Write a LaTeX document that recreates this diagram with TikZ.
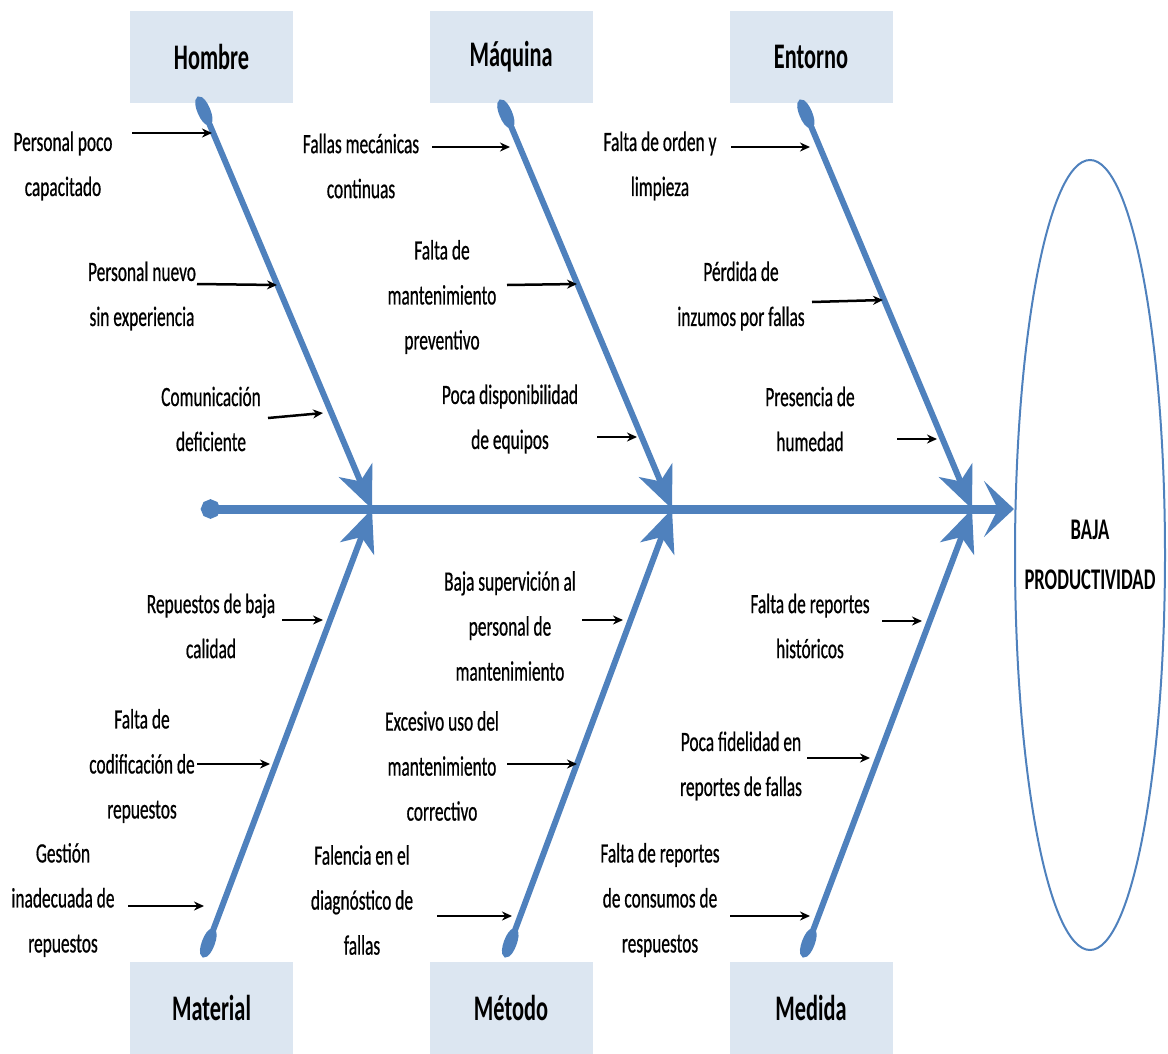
\documentclass[tikz,border=0pt]{standalone}
\usepackage{fontspec}
\setmainfont[FakeStretch=0.62]{Carlito}
\newfontfamily\causefont[FakeStretch=0.62,FakeBold=0.6]{Carlito}
\usetikzlibrary{arrows.meta,shapes.geometric}
\definecolor{bonecol}{HTML}{4F81BD}
\definecolor{boxcol}{HTML}{DCE6F1}
\tikzset{
  header/.style={fill=boxcol, minimum width=163pt, minimum height=92pt,
    font=\fontsize{36}{40}\selectfont\bfseries},
  cause/.style={align=center, inner sep=0pt,
    font=\causefont\fontsize{28}{45}\selectfont},
  causearrow/.style={line width=2.5pt, -{Stealth[length=10pt,width=9pt]}},
  bone/.style={draw=bonecol, line width=6pt,
    {Ellipse[length=30pt,width=13pt]}-{Stealth[length=42pt,width=36pt,inset=12pt]}},
  spine/.style={draw=bonecol, line width=9pt,
    {Circle[length=19pt]}-{Stealth[length=30pt,width=56pt,inset=14pt]}},
  effect/.style={ellipse, draw=bonecol, line width=2pt, minimum width=150pt,
    minimum height=790pt, inner sep=0pt},
  effecttext/.style={align=center, inner sep=0pt,
    font=\fontsize{30}{50}\selectfont\bfseries}
}

\begin{document}
\begin{tikzpicture}[x=1pt, y=-1pt]
    \useasboundingbox (0,0) rectangle (1168,1053);
    % categories
    \node[header] (hombre)   at (211.5,56.5) {Hombre};
    \node[header] (maquina)  at (511,56.5)   {Máquina};
    \node[header] (entorno)  at (811,56.5)   {Entorno};
    \node[header] (material) at (211.5,1008) {Material};
    \node[header] (metodo)   at (511,1008)   {Método};
    \node[header] (medida)   at (811,1008)   {Medida};
    % effect
    \node[effect] (efecto) at (1090,555) {};
    \node[effecttext] (efectotxt) at (efecto.center) {BAJA\\PRODUCTIVIDAD};
    % spine and bones
    \coordinate (tail) at (201,509);
    \coordinate (j1) at (372,509);
    \coordinate (j2) at (672,509);
    \coordinate (j3) at (972,509);
    \draw[spine] (tail) -- (tail -| efecto.west);
    \foreach \s/\x/\y/\j in {h/198/97/j1, q/500/100/j2, e/800/100/j3,
                             m/203/957/j1, t/505/957/j2, d/803/957/j3} {
      \coordinate (cap\s) at (\x,\y);
      \draw[bone] (cap\s) -- (\j);
    }
    % causes
    \foreach \n/\x/\y/\txt in {
        1/63/166/{Personal poco\\capacitado},
        2/142/296/{Personal nuevo\\sin experiencia},
        3/211/419/{Comunicación\\deficiente},
        4/361/166/{Fallas mecánicas\\continuas},
        5/442/297/{Falta de\\mantenimiento\\preventivo},
        6/510/419/{Poca disponibilidad\\de equipos},
        7/660/166/{Falta de orden y\\limpieza},
        8/741/296/{Pérdida de\\inzumos por fallas},
        9/810/419/{Presencia de\\humedad},
        10/211/626/{Repuestos de baja\\calidad},
        11/142/766/{Falta de\\codificación de\\repuestos},
        12/63/900/{Gestión\\inadecuada de\\repuestos},
        13/510/626/{Baja supervición al\\personal de\\mantenimiento},
        14/442/766/{Excesivo uso del\\mantenimiento\\correctivo},
        15/362/900/{Falencia en el\\diagnóstico de\\fallas},
        16/810/626/{Falta de reportes\\históricos},
        17/741/766/{Poca fidelidad en\\reportes de fallas},
        18/660/900/{Falta de reportes\\de consumos de\\respuestos}} {
      \node[cause] (c\n) at (\x,\y) {\txt};
    }
    \foreach \n/\ax/\ay/\bx/\by in {
        1/132/133/212/133, 2/197/284/277/285, 3/268/418/323/413,
        4/432/147/510/147, 5/507/285/577/284, 6/597/437/637/437,
        7/731/147/810/147, 8/812/302/883/300, 9/897/439/937/439,
        10/282/620/323/620, 11/197/764/270/764, 12/128/906/204/906,
        13/582/620/623/620, 14/507/764/577/764, 15/437/916/512/916,
        16/882/621/922/621, 17/807/758/870/758, 18/730/916/810/916} {
      \coordinate (s\n) at (\ax,\ay);
      \coordinate (e\n) at (\bx,\by);
      \draw[causearrow] (s\n) -- (e\n);
    }
  \end{tikzpicture}
\end{document}
